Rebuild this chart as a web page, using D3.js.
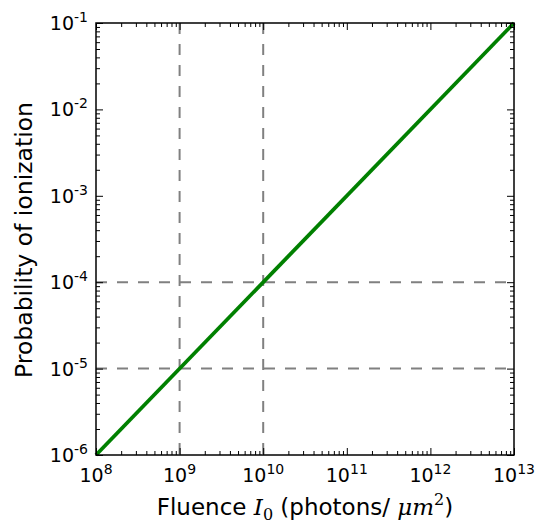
<!DOCTYPE html>
<html>
<head>
<meta charset="utf-8">
<script src="https://cdn.jsdelivr.net/npm/d3@7"></script>
<style>
  body { margin: 0; background: #fff; }
  text { font-family: "DejaVu Sans", sans-serif; fill: #000; }
  .math { font-family: "DejaVu Serif", serif; }
</style>
</head>
<body>
<svg id="chart" width="537" height="522"></svg>
<script>
// fluence vs probability (straight line on log-log)
var fluence = [1e8, 1e13];
var probability = [1e-6, 1e-1];
var xTickExp = [8, 9, 10, 11, 12, 13];
var yTickExp = [-6, -5, -4, -3, -2, -1];
var vRefs = [1e9, 1e10];
var hRefs = [1e-5, 1e-4];

var m = {left: 96, top: 23, right: 23, bottom: 67};
var W = 537, H = 522;
var w = W - m.left - m.right, h = H - m.top - m.bottom;

var svg = d3.select('#chart');
var g = svg.append('g').attr('transform', 'translate(' + m.left + ',' + m.top + ')');

var x = d3.scaleLog().domain([1e8, 1e13]).range([0, w]);
var y = d3.scaleLog().domain([1e-6, 1e-1]).range([h, 0]);

var minorVals = function (lo, hi) {
  var out = [];
  for (var e = lo; e < hi; e++) {
    for (var k = 2; k <= 9; k++) out.push(k * Math.pow(10, e));
  }
  return out;
};
var xMinor = minorVals(8, 13);
var yMinor = minorVals(-6, -1);

// reference lines
g.selectAll('.vref').data(vRefs).enter().append('line')
  .attr('x1', function (d) { return x(d); }).attr('x2', function (d) { return x(d); })
  .attr('y1', 0).attr('y2', h)
  .attr('stroke', '#808080').attr('stroke-width', 2).attr('stroke-dasharray', '11,10');
g.selectAll('.href').data(hRefs).enter().append('line')
  .attr('y1', function (d) { return y(d); }).attr('y2', function (d) { return y(d); })
  .attr('x1', 0).attr('x2', w)
  .attr('stroke', '#808080').attr('stroke-width', 2).attr('stroke-dasharray', '11,10');

// the line
var line = d3.line().x(function (d, i) { return x(d); }).y(function (d, i) { return y(probability[i]); });
g.append('path').datum(fluence).attr('d', line)
  .attr('fill', 'none').attr('stroke', '#008000').attr('stroke-width', 3.8);

// axes, inward ticks on all sides
var drawAxis = function (axisFn, scale, vals, size, tr) {
  var a = g.append('g').attr('transform', tr)
    .call(axisFn(scale).tickValues(vals).tickSize(-size).tickFormat(''));
  a.select('.domain').remove();
  a.selectAll('line').attr('stroke', '#000').attr('stroke-width', 1);
  return a;
};
var xMajor = xTickExp.map(function (e) { return Math.pow(10, e); });
var yMajor = yTickExp.map(function (e) { return Math.pow(10, e); });
drawAxis(d3.axisBottom, x, xMajor, 7, 'translate(0,' + h + ')');
drawAxis(d3.axisBottom, x, xMinor, 4, 'translate(0,' + h + ')');
drawAxis(d3.axisTop, x, xMajor, 7, 'translate(0,0)');
drawAxis(d3.axisTop, x, xMinor, 4, 'translate(0,0)');
drawAxis(d3.axisLeft, y, yMajor, 7, 'translate(0,0)');
drawAxis(d3.axisLeft, y, yMinor, 4, 'translate(0,0)');
drawAxis(d3.axisRight, y, yMajor, 7, 'translate(' + w + ',0)');
drawAxis(d3.axisRight, y, yMinor, 4, 'translate(' + w + ',0)');

g.append('rect').attr('width', w).attr('height', h)
  .attr('fill', 'none').attr('stroke', '#000').attr('stroke-width', 1.5);

// tick labels
xTickExp.forEach(function (e) {
  var t = g.append('text').attr('x', x(Math.pow(10, e))).attr('y', h + 27)
    .attr('text-anchor', 'middle').style('font-size', '19px');
  t.append('tspan').text('10');
  t.append('tspan').attr('dy', -8).style('font-size', '14px').text(e);
});
yTickExp.forEach(function (e) {
  var t = g.append('text').attr('x', -8).attr('y', y(Math.pow(10, e)) + 7)
    .attr('text-anchor', 'end').style('font-size', '19px');
  t.append('tspan').text('10');
  t.append('tspan').attr('dy', -8).style('font-size', '14px').text(e);
});

// axis labels
var xl = svg.append('text').attr('x', m.left + w / 2).attr('y', 515)
  .attr('text-anchor', 'middle').style('font-size', '23px');
xl.append('tspan').text('Fluence ');
xl.append('tspan').attr('class', 'math').style('font-style', 'italic').text('I');
xl.append('tspan').attr('class', 'math').attr('dy', 5).style('font-size', '16px').text('0');
xl.append('tspan').attr('dy', -5).text(' (photons/ ');
xl.append('tspan').attr('class', 'math').style('font-style', 'italic').text('μm');
xl.append('tspan').attr('class', 'math').attr('dy', -10).style('font-size', '16px').text('2');
xl.append('tspan').attr('dy', 10).text(')');

svg.append('text')
  .attr('transform', 'translate(32,' + (m.top + h / 2 + 1) + ') rotate(-90)')
  .attr('text-anchor', 'middle').style('font-size', '23.5px')
  .text('Probability of ionization');
</script>
</body>
</html>
